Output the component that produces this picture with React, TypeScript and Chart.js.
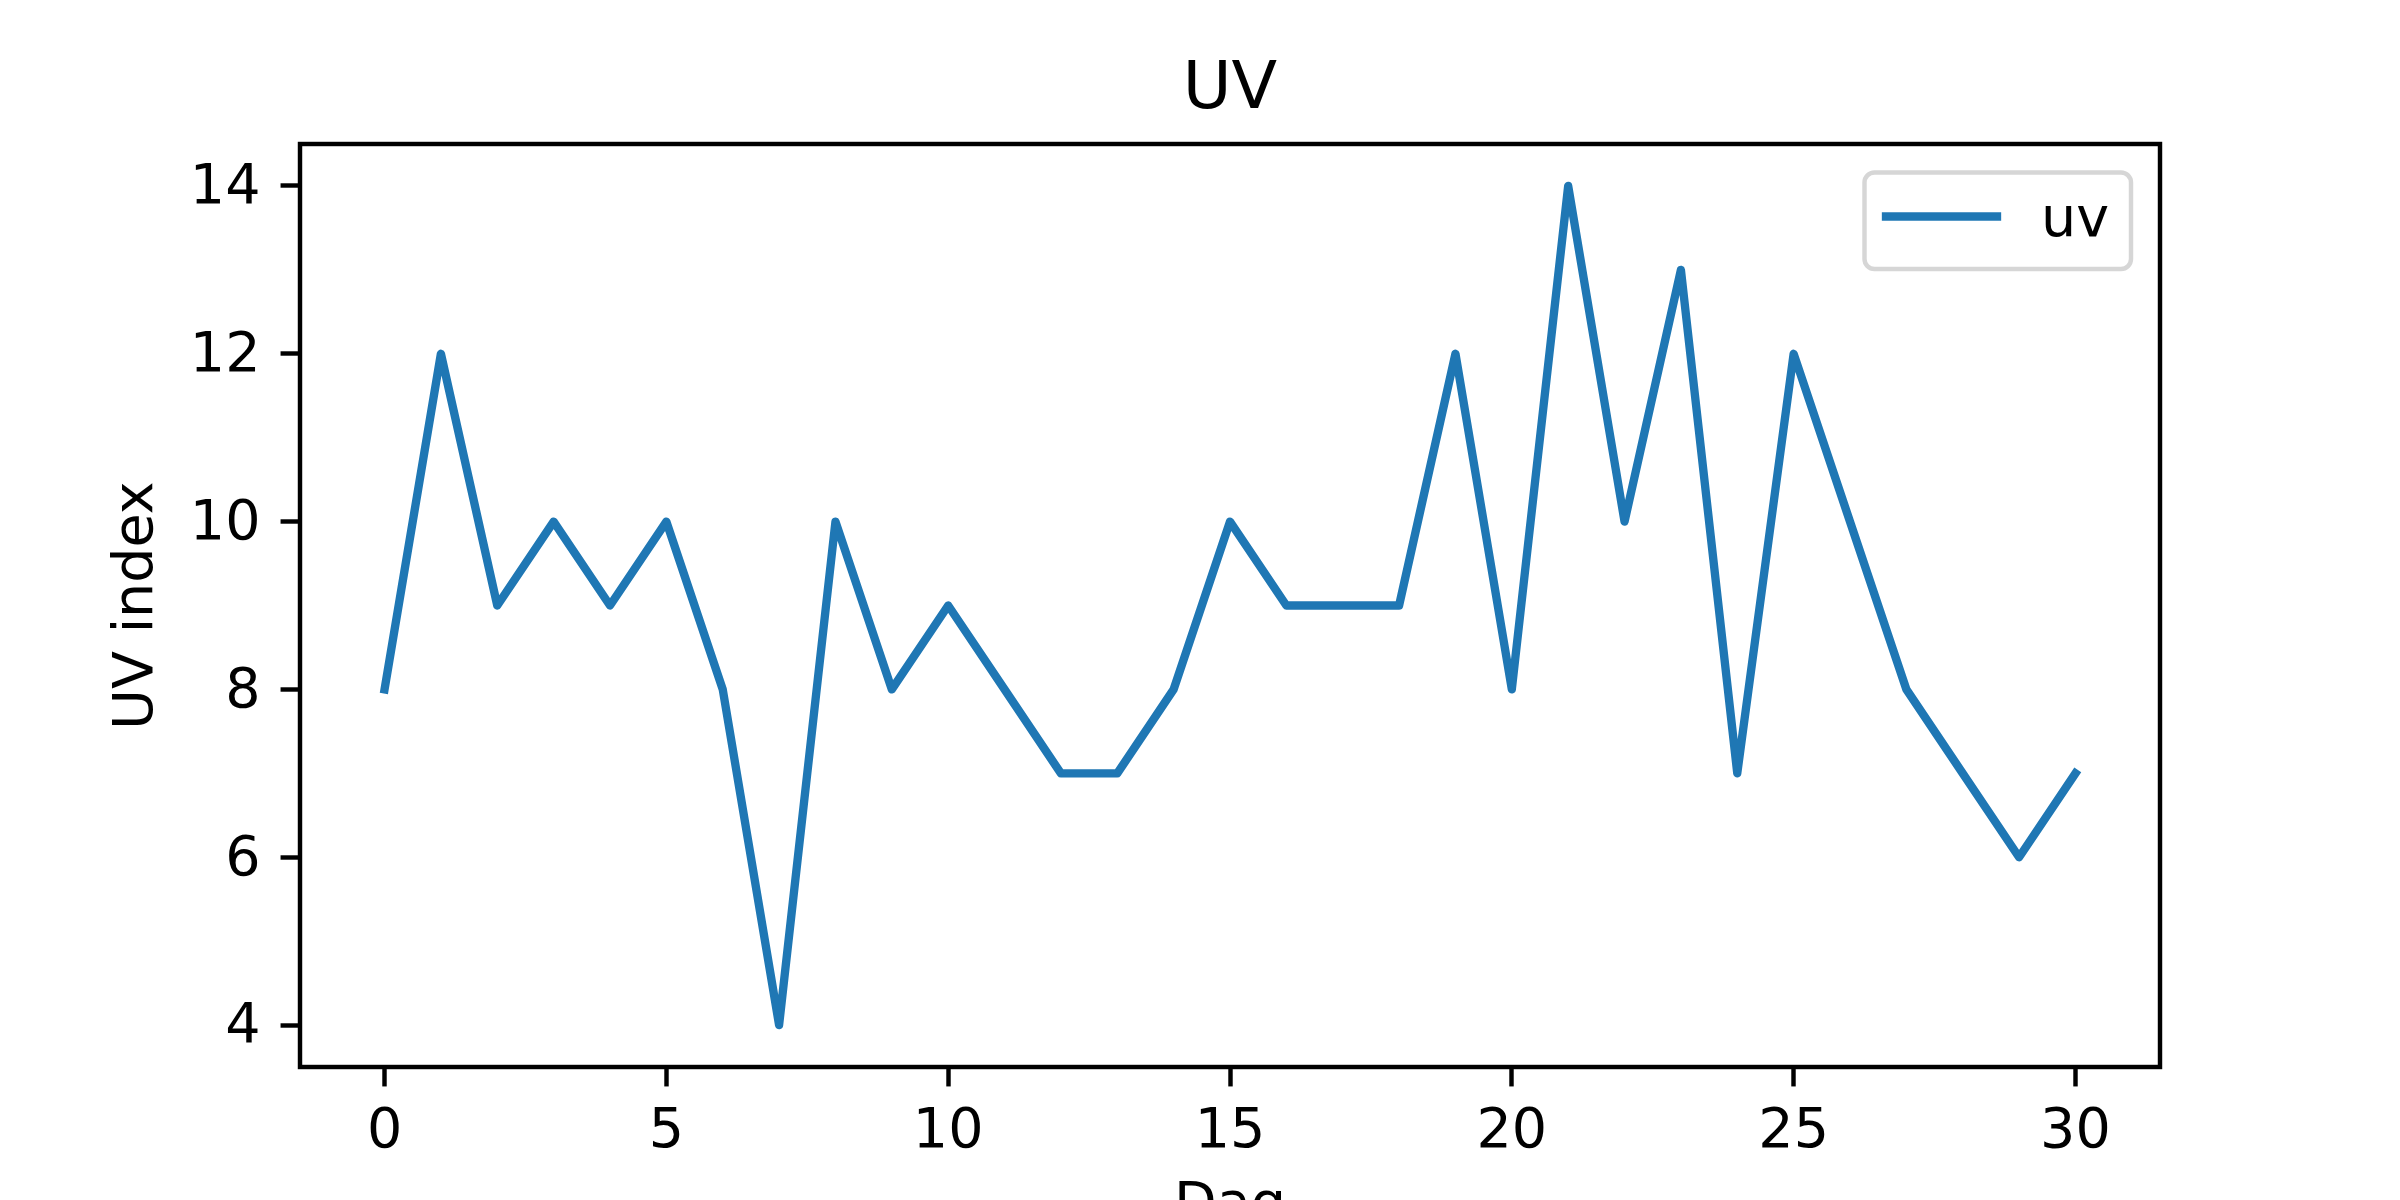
import React, { useEffect, useRef } from 'react';
import { Chart, registerables } from 'chart.js';

Chart.register(...registerables);

const DAYS = [0, 1, 2, 3, 4, 5, 6, 7, 8, 9, 10, 11, 12, 13, 14, 15, 16, 17, 18, 19, 20, 21, 22, 23, 24, 25, 26, 27, 28, 29, 30];
const UV_VALUES = [8, 12, 9, 10, 9, 10, 8, 4, 10, 8, 9, 8, 7, 7, 8, 10, 9, 9, 9, 12, 8, 14, 10, 13, 7, 12, 10, 8, 7, 6, 7];
const X_TICKS = [0, 5, 10, 15, 20, 25, 30];
const Y_TICKS = [4, 6, 8, 10, 12, 14];
const SERIES_LABEL = 'uv';
const TITLE = 'UV';
const X_LABEL = 'Dag';
const Y_LABEL = 'UV index';

const FONT = 'DejaVu Sans';
const LINE_COLOR = '#1f77b4';
const PT = 400 / 72; // matplotlib point in pixels at 400 dpi
const FONT_SIZE = 10 * PT;
const TITLE_SIZE = 12 * PT;
const LINE_W = 1.5 * PT;
const SPINE_W = 0.8 * PT;
const TICK_LEN = 3.5 * PT;

const framePlugin = {
  id: 'mplFrame',
  afterDatasetsDraw(chart: any) {
    const { ctx, chartArea } = chart;
    const { left, top, right, bottom } = chartArea;
    ctx.save();
    ctx.strokeStyle = '#000';
    ctx.lineWidth = SPINE_W;
    ctx.lineJoin = 'miter';
    ctx.strokeRect(left, top, right - left, bottom - top);
    ctx.restore();
  },
};

const legendPlugin = {
  id: 'mplLegend',
  afterDraw(chart: any) {
    const { ctx, chartArea } = chart;
    const boxRight = chartArea.right - 29;
    const boxTop = chartArea.top + 28.5;
    const boxW = 266.5;
    const boxH = 96.5;
    const boxLeft = boxRight - boxW;
    ctx.save();
    ctx.beginPath();
    ctx.roundRect(boxLeft, boxTop, boxW, boxH, 10);
    ctx.fillStyle = 'rgba(255,255,255,0.8)';
    ctx.fill();
    ctx.lineWidth = SPINE_W;
    ctx.strokeStyle = '#d6d6d6';
    ctx.stroke();
    // handle
    ctx.beginPath();
    ctx.moveTo(boxLeft + 21.5, boxTop + 44);
    ctx.lineTo(boxLeft + 132.5, boxTop + 44);
    ctx.strokeStyle = LINE_COLOR;
    ctx.lineWidth = LINE_W;
    ctx.lineCap = 'square';
    ctx.stroke();
    // text
    ctx.fillStyle = '#000';
    ctx.font = `${FONT_SIZE}px "${FONT}"`;
    ctx.textAlign = 'left';
    ctx.textBaseline = 'alphabetic';
    ctx.fillText(SERIES_LABEL, boxLeft + 176.5, boxTop + 63.5);
    ctx.restore();
  },
};

export default function App() {
  const canvasRef = useRef<HTMLCanvasElement | null>(null);

  useEffect(() => {
    document.body.style.margin = '0';
    const canvas = canvasRef.current;
    if (!canvas) return;
    const tickFont = { family: FONT, size: FONT_SIZE, weight: 'normal' as const, lineHeight: 1.2 };
    const chart = new Chart(canvas, {
      type: 'line',
      data: {
        datasets: [
          {
            label: SERIES_LABEL,
            data: DAYS.map((d, i) => ({ x: d, y: UV_VALUES[i] })),
            borderColor: LINE_COLOR,
            backgroundColor: LINE_COLOR,
            borderWidth: LINE_W,
            pointRadius: 0,
            pointHoverRadius: 0,
            tension: 0,
            fill: false,
            borderCapStyle: 'square',
            borderJoinStyle: 'round',
          },
        ],
      },
      options: {
        animation: false,
        responsive: false,
        devicePixelRatio: 1,
        events: [],
        layout: { padding: { left: 0, right: 240, top: 0, bottom: 0 } },
        plugins: {
          legend: { display: false },
          tooltip: { enabled: false },
          title: {
            display: true,
            text: TITLE,
            fullSize: false,
            color: '#000',
            font: { family: FONT, size: TITLE_SIZE, weight: 'normal', lineHeight: 1.2 },
            padding: { top: 51, bottom: 13 },
          },
        },
        scales: {
          x: {
            type: 'linear',
            min: -1.5,
            max: 31.5,
            afterBuildTicks: (s: any) => {
              s.ticks = X_TICKS.map((v) => ({ value: v }));
            },
            afterFit: (s: any) => {
              s.height = 133;
            },
            ticks: {
              color: '#000',
              font: tickFont,
              padding: 13,
              maxRotation: 0,
              autoSkip: false,
            },
            grid: {
              display: true,
              drawOnChartArea: false,
              drawTicks: true,
              tickLength: TICK_LEN,
              tickWidth: SPINE_W,
              tickColor: '#000',
            },
            border: { display: false },
            title: {
              display: true,
              text: X_LABEL,
              color: '#000',
              font: tickFont,
              padding: { top: 0, bottom: -39.7 },
            },
          },
          y: {
            type: 'linear',
            min: 3.5,
            max: 14.5,
            afterBuildTicks: (s: any) => {
              s.ticks = Y_TICKS.map((v) => ({ value: v }));
            },
            afterFit: (s: any) => {
              s.width = 300;
            },
            ticks: {
              color: '#000',
              font: tickFont,
              padding: 20,
              labelOffset: 3,
              autoSkip: false,
            },
            grid: {
              display: true,
              drawOnChartArea: false,
              drawTicks: true,
              tickLength: TICK_LEN,
              tickWidth: SPINE_W,
              tickColor: '#000',
            },
            border: { display: false },
            title: {
              display: true,
              text: Y_LABEL,
              color: '#000',
              font: tickFont,
              padding: { top: 104.4, bottom: 0 },
            },
          },
        },
      },
      plugins: [framePlugin, legendPlugin],
    } as any);
    return () => {
      chart.destroy();
    };
  }, []);

  return (
    <div style={{ position: 'absolute', left: 0, top: 0, width: 2400, height: 1200, background: '#fff' }}>
      <canvas ref={canvasRef} width={2400} height={1200} style={{ display: 'block', width: 2400, height: 1200 }} />
    </div>
  );
}
